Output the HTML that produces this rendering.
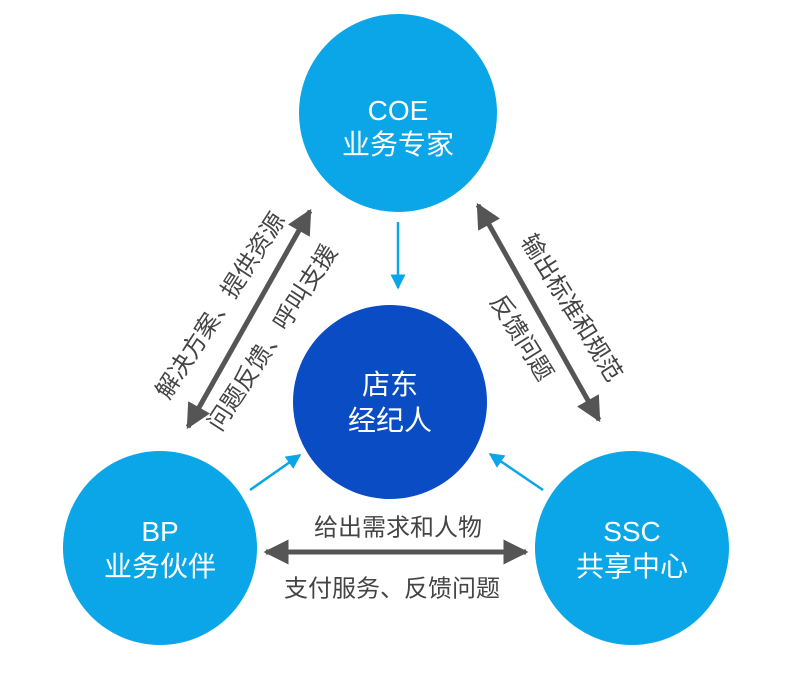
<!DOCTYPE html>
<html><head><meta charset="utf-8"><style>
html,body{margin:0;padding:0;background:#fff;}
svg text{font-family:"Liberation Sans","Noto Sans CJK SC",sans-serif;}
</style></head><body>
<svg width="800" height="681" viewBox="0 0 800 681" xmlns="http://www.w3.org/2000/svg">
<defs>
<marker id="g" viewBox="0 0 10 10" refX="9" refY="5" markerWidth="5.2" markerHeight="5" orient="auto-start-reverse" markerUnits="strokeWidth"><path d="M0,0L10,5L0,10z" fill="#555"/></marker>
<marker id="b" viewBox="0 0 10 10" refX="9" refY="5" markerWidth="6" markerHeight="6" orient="auto" markerUnits="strokeWidth"><path d="M0,0L10,5L0,10z" fill="#0aa6e8"/></marker>
</defs>
<circle cx="398" cy="113" r="99" fill="#0aa6e8"/>
<circle cx="390" cy="402" r="97" fill="#0a4cc4"/>
<circle cx="160" cy="548" r="97" fill="#0aa6e8"/>
<circle cx="632" cy="548" r="97" fill="#0aa6e8"/>
<g fill="#fff" font-size="28" text-anchor="middle">
<text x="398" y="120">COE</text><text x="398" y="154">业务专家</text>
<text x="390" y="394">店东</text><text x="390" y="430">经纪人</text>
<text x="160" y="541">BP</text><text x="160" y="576">业务伙伴</text>
<text x="632" y="541">SSC</text><text x="632" y="576">共享中心</text>
</g>
<g stroke="#0aa6e8" stroke-width="2.5">
<line x1="398" y1="222" x2="398" y2="288" marker-end="url(#b)"/>
<line x1="250" y1="490" x2="300" y2="455" marker-end="url(#b)"/>
<line x1="543" y1="490" x2="490" y2="454" marker-end="url(#b)"/>
</g>
<g stroke="#555" stroke-width="5">
<line x1="310" y1="211" x2="188" y2="427" marker-start="url(#g)" marker-end="url(#g)"/>
<line x1="478" y1="205" x2="599" y2="420" marker-start="url(#g)" marker-end="url(#g)"/>
<line x1="266" y1="552" x2="526" y2="552" marker-start="url(#g)" marker-end="url(#g)"/>
</g>
<g fill="#444" font-size="24" text-anchor="middle" dominant-baseline="central">
<text transform="translate(221,306) rotate(-57)">解决方案、提供资源</text>
<text transform="translate(273,338) rotate(-57)">问题反馈、呼叫支援</text>
<text transform="translate(571,308) rotate(58)">输出标准和规范</text>
<text transform="translate(521,338) rotate(58)">反馈问题</text>
<text x="398" y="528">给出需求和人物</text>
<text x="392" y="589">支付服务、反馈问题</text>
</g>
</svg>
</body></html>
